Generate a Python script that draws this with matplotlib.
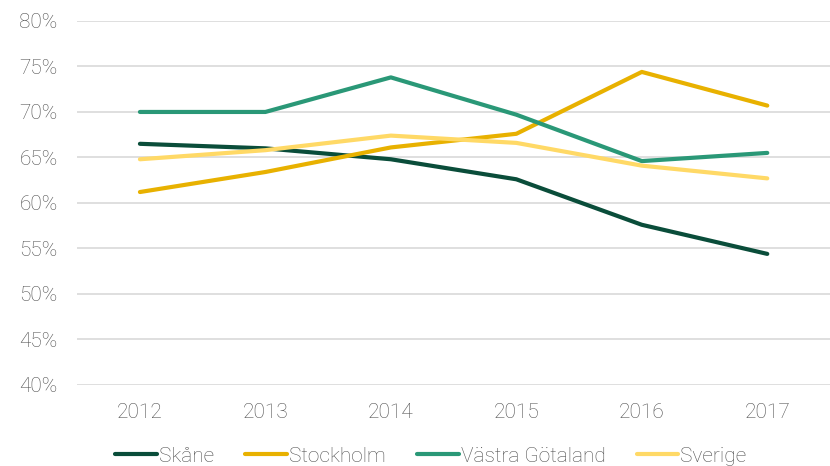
"""Andel per region 2012-2017, linjediagram."""

import matplotlib

matplotlib.use("Agg")

import matplotlib.pyplot as plt
from matplotlib.ticker import FuncFormatter

YEARS = [2012, 2013, 2014, 2015, 2016, 2017]
SKANE = [66.5, 66.0, 64.8, 62.6, 57.6, 54.4]
STOCKHOLM = [61.2, 63.4, 66.1, 67.6, 74.4, 70.7]
VASTRA_GOTALAND = [70.0, 70.0, 73.8, 69.7, 64.6, 65.5]
SVERIGE = [64.8, 65.8, 67.4, 66.6, 64.1, 62.7]

SERIES = [
    ("Skåne", SKANE, "#0a4d3a"),
    ("Stockholm", STOCKHOLM, "#e8b100"),
    ("Västra Götaland", VASTRA_GOTALAND, "#2a9877"),
    ("Sverige", SVERIGE, "#ffd966"),
]
TEXT_COLOR = "#4f4f4f"
FONT_SIZE = 15

plt.rcParams["font.family"] = ["Roboto", "DejaVu Sans"]
plt.rcParams["font.weight"] = "light"

fig = plt.figure(figsize=(8.3, 4.66), dpi=100)
ax = fig.add_axes([0.093, 0.174, 0.907, 0.781])

x = list(range(len(YEARS)))
for label, values, color in SERIES:
    ax.plot(x, values, color=color, linewidth=3.0, label=label, solid_capstyle="round")

ax.set_xlim(-0.5, len(YEARS) - 0.5)
ax.set_ylim(40, 80)
ax.set_yticks(range(40, 81, 5))
ax.yaxis.set_major_formatter(FuncFormatter(lambda v, _: f"{v:.0f}%"))
ax.set_xticks(x, [str(y) for y in YEARS])
ax.tick_params(axis="both", length=0, labelsize=FONT_SIZE, colors=TEXT_COLOR)
ax.tick_params(axis="x", pad=13)
ax.tick_params(axis="y", pad=14)
ax.grid(axis="y", color="#d9d9d9", linewidth=1.2)
ax.set_axisbelow(True)
for spine in ax.spines.values():
    spine.set_visible(False)

fig.legend(
    loc="center left",
    bbox_to_anchor=(115 / 830, 1 - 456 / 466),
    ncol=4,
    frameon=False,
    fontsize=FONT_SIZE,
    labelcolor=TEXT_COLOR,
    handlelength=2.0,
    handletextpad=0.1,
    columnspacing=1.5,
    borderpad=0,
    borderaxespad=0,
)

fig.savefig("out.png", dpi=100)
